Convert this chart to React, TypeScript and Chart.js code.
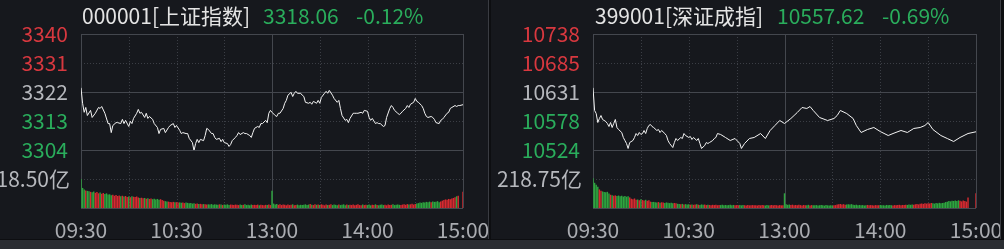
import React, { useEffect, useRef } from 'react';
import { Chart, registerables } from 'chart.js';

Chart.register(...registerables);

const FONT = '"Noto Sans CJK SC", "Noto Sans", sans-serif';
const FONT_SIZE = 21;
const BG = '#16181d';
const RED = '#d8383f';
const GREEN = '#2aad5c';
const GRAY_TEXT = '#b6b8bd';
const BAR_RED = '#d62a30';
const BAR_GREEN = '#2ea53f';

// ---- shared time axis (minutes from 09:30, lunch break removed) ----
const timeTicks = [0, 60, 120, 180, 240];
const timeTickLabels = ['09:30', '10:30', '13:00', '14:00', '15:00'];
const solidTimeLines = [0, 120, 240];
const dottedTimeLines = [30, 60, 90, 150, 180, 210];

// ---- 000001 上证指数 ----
const shTitle = '000001[上证指数]';
const shLast = '3318.06';
const shChange = '-0.12%';
const shPrevClose = 3322;
const shPriceTicks = [3304, 3313, 3322, 3331, 3340];
const shPriceTickLabels = ['3304', '3313', '3322', '3331', '3340'];
const shVolumeMax = 237;
const shVolumeTick = 118.5;
const shVolumeLabel = '118.50亿';
const shMinutes = [
  0, 1, 2, 3, 4, 6, 7, 9, 11, 12, 13, 15, 17, 18, 19, 20, 22, 23, 25, 26, 27, 28, 30, 31, 32, 33, 35, 36, 37, 38,
  40, 41, 42, 43, 45, 46, 48, 49, 50, 52, 53, 55, 56, 58, 59, 60, 62, 63, 64, 66, 67, 68, 70, 71, 72, 73, 74, 75, 77, 78,
  79, 80, 82, 83, 84, 85, 87, 88, 89, 90, 92, 93, 94, 95, 97, 98, 99, 100, 102, 103, 104, 106, 107, 108, 109, 111, 112, 113, 114, 116,
  117, 118, 119, 120, 122, 123, 124, 125, 127, 128, 129, 130, 132, 133, 134, 135, 136, 138, 139, 140, 141, 143, 144, 145, 146, 148, 149, 150, 151, 153,
  154, 155, 156, 158, 159, 161, 162, 163, 164, 166, 167, 168, 169, 171, 172, 173, 174, 176, 177, 178, 180, 181, 182, 183, 185, 186, 187, 188, 190, 191,
  192, 194, 195, 196, 197, 199, 200, 201, 202, 204, 205, 206, 207, 209, 210, 211, 212, 214, 215, 216, 217, 218, 220, 221, 222, 223, 225, 226, 227, 228,
  230, 231, 232, 233, 235, 236, 237, 238, 240,
];
const shPrices = [
  3323.3, 3318.5, 3315.7, 3317.2, 3314.7, 3316.3, 3314.1, 3315.4, 3317.2, 3316.9, 3317.5, 3315.4, 3312.2, 3312.2, 3309.4, 3311.6, 3312.5, 3312.5, 3312.2, 3313.5, 3312.2, 3313.2, 3311.3, 3312.9, 3312.2, 3313.8, 3315.4, 3316.6, 3315.4, 3315.7,
  3314.1, 3315.4, 3313.8, 3314.4, 3313.5, 3312.2, 3311.0, 3309.1, 3310.4, 3310.7, 3309.4, 3311.0, 3311.6, 3312.2, 3311.0, 3311.6, 3310.1, 3309.1, 3309.4, 3309.1, 3309.1, 3307.6, 3306.3, 3303.8, 3306.0, 3307.3, 3306.3, 3307.3, 3306.9, 3308.5,
  3310.7, 3310.4, 3309.1, 3309.1, 3307.9, 3307.3, 3307.6, 3306.6, 3307.3, 3306.3, 3306.0, 3305.1, 3305.7, 3306.9, 3307.9, 3308.5, 3309.4, 3308.8, 3309.4, 3309.1, 3309.1, 3308.5, 3307.9, 3309.4, 3310.7, 3311.3, 3311.0, 3312.2, 3312.2, 3313.2,
  3312.5, 3315.4, 3316.3, 3315.7, 3314.7, 3314.4, 3315.4, 3315.4, 3316.9, 3318.5, 3319.4, 3321.0, 3321.9, 3320.6, 3321.6, 3322.2, 3321.6, 3321.6, 3321.0, 3320.6, 3318.8, 3318.5, 3318.8, 3318.2, 3319.1, 3318.5, 3319.4, 3318.5, 3320.3, 3321.6,
  3322.2, 3321.6, 3322.5, 3321.0, 3320.0, 3318.8, 3319.4, 3316.9, 3314.7, 3313.2, 3313.5, 3312.5, 3313.8, 3315.4, 3315.4, 3315.4, 3315.4, 3315.7, 3315.4, 3316.3, 3316.0, 3314.1, 3313.2, 3313.8, 3312.2, 3312.5, 3312.2, 3312.2, 3311.3, 3311.6,
  3314.1, 3316.9, 3317.8, 3317.2, 3316.3, 3315.4, 3315.0, 3315.4, 3316.0, 3316.9, 3317.8, 3317.2, 3318.2, 3318.8, 3320.0, 3319.1, 3318.8, 3317.8, 3316.9, 3315.4, 3314.4, 3314.1, 3314.4, 3314.1, 3313.5, 3312.5, 3312.2, 3313.2, 3313.5, 3314.1,
  3315.4, 3315.7, 3316.9, 3317.2, 3317.8, 3317.5, 3317.8, 3317.8, 3318.06,
];
const shVolumes = [
  118, 82, 76, 72, 70, 68, 66, 64, 67, 62, 65, 60, 63, 58, 61, 57, 60, 55, 56, 52,
  54, 50, 53, 49, 51, 48, 50, 47, 49, 45, 47, 44, 48, 46, 45, 47, 43, 41, 42, 40,
  41, 38, 40, 37, 39, 36, 38, 35, 37, 34, 36, 33, 30, 28, 27, 26, 25, 24, 25, 23,
  24, 22, 23, 21, 22, 20, 22, 21, 19, 20, 18, 19, 17, 18, 16, 17, 15, 16, 15, 14,
  15, 14, 16, 13, 15, 14, 13, 15, 14, 12, 14, 13, 15, 12, 14, 13, 12, 14, 13, 12,
  14, 12, 13, 15, 12, 13, 11, 14, 12, 13, 12, 14, 11, 13, 12, 11, 13, 12, 14, 12,
  70, 18, 14, 16, 13, 15, 12, 14, 13, 11, 14, 12, 13, 15, 11, 12, 14, 11, 13, 12,
  13, 15, 12, 14, 16, 13, 12, 15, 13, 14, 12, 15, 13, 11, 14, 12, 13, 15, 12, 14,
  13, 11, 14, 12, 13, 15, 11, 14, 12, 13, 12, 14, 11, 13, 15, 12, 11, 14, 12, 13,
  12, 14, 11, 13, 12, 15, 12, 11, 13, 14, 12, 13, 11, 14, 12, 13, 15, 12, 13, 14,
  13, 12, 14, 15, 13, 16, 14, 15, 17, 14, 16, 18, 20, 22, 21, 24, 22, 25, 23, 26,
  24, 27, 25, 26, 28, 24, 27, 30, 33, 35, 34, 37, 36, 39, 41, 44, 48, 50, 0, 0,
  66,
];

// ---- 399001 深证成指 ----
const szTitle = '399001[深证成指]';
const szLast = '10557.62';
const szChange = '-0.69%';
const szPrevClose = 10631;
const szPriceTicks = [10524, 10578, 10631, 10685, 10738];
const szPriceTickLabels = ['10524', '10578', '10631', '10685', '10738'];
const szVolumeMax = 437.5;
const szVolumeTick = 218.75;
const szVolumeLabel = '218.75亿';
const szMinutes = [
  0, 1, 2, 3, 4, 5, 6, 8, 9, 10, 11, 12, 13, 14, 15, 16, 18, 19, 20, 21, 22, 23, 25, 26, 27, 28, 29, 30, 31, 32,
  33, 34, 35, 36, 37, 38, 40, 41, 42, 43, 45, 46, 47, 48, 50, 51, 52, 53, 55, 56, 57, 58, 60, 61, 62, 63, 65, 66, 67, 68,
  70, 71, 72, 73, 75, 76, 77, 78, 80, 83, 86, 89, 92, 93, 95, 98, 101, 105, 108, 111, 114, 117, 120, 124, 126, 128, 131, 134, 136, 138,
  142, 147, 151, 153, 155, 159, 163, 165, 168, 172, 176, 180, 185, 188, 193, 197, 201, 205, 208, 210, 213, 218, 222, 226, 230, 235, 240,
];
const szPrices = [
  10638.7, 10596.9, 10591.3, 10574.7, 10582.1, 10587.6, 10580.3, 10576.6, 10572.9, 10567.3, 10574.7, 10565.5, 10572.9, 10580.3, 10565.5, 10561.8, 10556.3, 10547.1, 10541.5, 10536.0, 10526.8, 10537.8, 10541.5, 10547.1, 10554.4, 10550.7, 10556.3, 10552.6, 10554.4, 10560.0,
  10554.4, 10563.7, 10569.2, 10571.0, 10567.3, 10565.5, 10560.0, 10561.8, 10556.3, 10560.0, 10554.4, 10550.7, 10541.5, 10536.0, 10528.6, 10537.8, 10545.2, 10541.5, 10547.1, 10545.2, 10554.4, 10550.7, 10547.1, 10548.9, 10543.4, 10547.1, 10541.5, 10545.2, 10536.0, 10526.8,
  10532.3, 10537.8, 10536.0, 10537.8, 10541.5, 10545.2, 10547.1, 10554.4, 10552.6, 10547.1, 10541.5, 10545.2, 10536.0, 10526.8, 10536.0, 10545.2, 10547.1, 10554.4, 10545.2, 10560.0, 10569.2, 10578.4, 10572.9, 10582.1, 10587.6, 10593.2, 10602.4, 10600.6, 10604.2, 10596.9,
  10583.9, 10578.4, 10582.1, 10587.6, 10596.9, 10591.3, 10582.1, 10569.2, 10556.3, 10561.8, 10565.5, 10558.1, 10550.7, 10554.4, 10560.0, 10556.3, 10563.7, 10565.5, 10569.2, 10574.7, 10561.8, 10550.7, 10545.2, 10539.7, 10547.1, 10554.4, 10557.62,
];
const szVolumes = [
  225, 190, 175, 160, 140, 130, 125, 120, 118, 122, 110, 100, 96, 92, 95, 90, 94, 88, 92, 86,
  90, 85, 88, 80, 70, 66, 72, 62, 64, 58, 66, 60, 56, 62, 55, 58, 48, 45, 46, 44,
  42, 45, 40, 43, 41, 38, 42, 39, 37, 40, 36, 38, 35, 32, 30, 28, 31, 27, 29, 26,
  28, 25, 27, 24, 26, 28, 25, 23, 27, 24, 26, 22, 25, 23, 21, 24, 22, 25, 21, 23,
  22, 24, 21, 23, 20, 22, 24, 21, 23, 20, 22, 21, 23, 20, 22, 21, 19, 22, 20, 21,
  22, 20, 21, 19, 23, 20, 22, 21, 19, 22, 20, 21, 23, 20, 22, 21, 19, 22, 20, 21,
  111, 28, 24, 26, 22, 25, 21, 23, 20, 24, 22, 19, 23, 21, 20, 24, 19, 22, 20, 21,
  22, 19, 21, 23, 20, 18, 22, 20, 19, 21, 18, 20, 22, 26, 28, 30, 27, 29, 25, 27,
  28, 26, 29, 24, 22, 25, 21, 23, 20, 22, 19, 21, 23, 20, 22, 21, 19, 22, 20, 21,
  22, 20, 21, 19, 23, 20, 22, 21, 19, 22, 20, 23, 24, 21, 23, 22, 25, 23, 26, 24,
  27, 25, 28, 30, 27, 32, 34, 31, 35, 33, 36, 34, 38, 35, 33, 37, 35, 39, 36, 38,
  40, 45, 48, 52, 50, 55, 53, 56, 52, 58, 54, 50, 57, 53, 48, 80, 0, 0, 0, 0,
  111,
];

type PanelProps = {
  left: number;
  width: number;
  canvasWidth: number;
  axisWidth: number;
  plotRight: number;
  titleX: number[];
  title: string;
  last: string;
  change: string;
  prevClose: number;
  priceTicks: number[];
  priceTickLabels: string[];
  volumeMax: number;
  volumeTick: number;
  volumeLabel: string;
  minutes: number[];
  prices: number[];
  volumes: number[];
};

function barColors(minutes: number[], prices: number[], count: number): string[] {
  const closes: number[] = [];
  let j = 0;
  let p = prices[0];
  for (let t = 0; t < count; t++) {
    while (j < minutes.length && minutes[j] <= t) {
      p = prices[j];
      j++;
    }
    closes.push(p);
  }
  const out: string[] = [];
  for (let t = 0; t < count; t++) {
    if (t === 0) {
      out.push(closes[1] < closes[0] ? BAR_GREEN : BAR_RED);
    } else if (closes[t] > closes[t - 1]) {
      out.push(BAR_RED);
    } else if (closes[t] < closes[t - 1]) {
      out.push(BAR_GREEN);
    } else {
      out.push(out[t - 1]);
    }
  }
  return out;
}

const gridPlugin = {
  id: 'quoteGrid',
  beforeDatasetsDraw(chart: any) {
    const { ctx, chartArea: a, scales } = chart;
    const x = scales.x;
    const y = scales.y;
    const v = scales.v;
    const opts = chart.options.plugins.quoteGrid;
    ctx.save();
    ctx.lineWidth = 1;
    const h = (py: number, dashed: boolean) => {
      const yy = Math.round(py) + 0.5;
      ctx.strokeStyle = dashed ? '#3b3e45' : '#44474e';
      ctx.setLineDash(dashed ? [1, 2] : []);
      ctx.beginPath();
      ctx.moveTo(a.left, yy);
      ctx.lineTo(a.right, yy);
      ctx.stroke();
    };
    const vl = (px: number, dashed: boolean) => {
      const xx = Math.round(px) + 0.5;
      ctx.strokeStyle = dashed ? '#3b3e45' : '#44474e';
      ctx.setLineDash(dashed ? [1, 2] : []);
      ctx.beginPath();
      ctx.moveTo(xx, a.top);
      ctx.lineTo(xx, a.bottom);
      ctx.stroke();
    };
    dottedTimeLines.forEach((t) => vl(x.getPixelForValue(t), true));
    opts.priceTicks.forEach((val: number, i: number) => {
      const solid = i === 0 || i === opts.priceTicks.length - 1 || val === opts.prevClose;
      h(y.getPixelForValue(val), !solid);
    });
    h(v.getPixelForValue(opts.volumeTick), true);
    h(v.getPixelForValue(0), false);
    solidTimeLines.forEach((t) => vl(x.getPixelForValue(t), false));
    ctx.restore();
  },
};

function Panel(props: PanelProps) {
  const ref = useRef<HTMLCanvasElement>(null);
  useEffect(() => {
    const canvas = ref.current;
    if (!canvas) return;
    const colors = barColors(props.minutes, props.prices, props.volumes.length);
    const tickColor = (val: number) =>
      val > props.prevClose + 0.5 ? RED : val < props.prevClose - 0.5 ? GREEN : GRAY_TEXT;
    const chart = new Chart(canvas, {
      data: {
        datasets: [
          {
            type: 'line',
            data: props.minutes.map((m, i) => ({ x: m, y: props.prices[i] })),
            xAxisID: 'x',
            yAxisID: 'y',
            borderColor: '#f4f4f4',
            borderWidth: 1,
            pointRadius: 0,
            tension: 0,
            order: 0,
          },
          {
            type: 'bar',
            data: props.volumes.map((vol, i) => ({ x: i, y: vol })),
            xAxisID: 'x',
            yAxisID: 'v',
            backgroundColor: colors,
            borderWidth: 0,
            barPercentage: 0.9,
            categoryPercentage: 1,
            order: 1,
          },
        ],
      } as any,
      options: {
        animation: false,
        responsive: false,
        maintainAspectRatio: false,
        events: [],
        layout: { padding: { top: 34, left: 0, bottom: 0, right: props.canvasWidth - props.plotRight } },
        plugins: {
          legend: { display: false },
          tooltip: { enabled: false },
          quoteGrid: {
            priceTicks: props.priceTicks,
            prevClose: props.prevClose,
            volumeTick: props.volumeTick,
          },
        } as any,
        scales: {
          x: {
            type: 'linear',
            min: 0,
            max: 240,
            offset: false,
            grid: { display: false },
            border: { display: false },
            afterBuildTicks: (s: any) => {
              s.ticks = timeTicks.map((t) => ({ value: t }));
            },
            afterFit: (s: any) => {
              s.height = 31;
            },
            ticks: {
              autoSkip: false,
              maxRotation: 0,
              padding: 1,
              color: '#aaacb1',
              font: { family: FONT, size: FONT_SIZE },
              callback: (val: any) => timeTickLabels[timeTicks.indexOf(Number(val))],
            },
          },
          v: {
            type: 'linear',
            position: 'left',
            stack: 'quote',
            stackWeight: 1,
            min: 0,
            max: props.volumeMax,
            grid: { display: false },
            border: { display: false },
            afterBuildTicks: (s: any) => {
              s.ticks = [{ value: props.volumeTick }];
            },
            afterFit: (s: any) => {
              s.width = props.axisWidth;
            },
            ticks: {
              autoSkip: false,
              padding: 3,
              color: GRAY_TEXT,
              font: { family: FONT, size: FONT_SIZE },
              callback: () => props.volumeLabel,
            },
          },
          y: {
            type: 'linear',
            position: 'left',
            stack: 'quote',
            stackWeight: 2,
            min: props.priceTicks[0],
            max: props.priceTicks[props.priceTicks.length - 1],
            grid: { display: false },
            border: { display: false },
            afterBuildTicks: (s: any) => {
              s.ticks = props.priceTicks.map((t) => ({ value: t }));
            },
            afterFit: (s: any) => {
              s.width = props.axisWidth;
            },
            ticks: {
              autoSkip: false,
              padding: 5,
              color: (ctx: any) => tickColor(ctx.tick.value),
              font: { family: FONT, size: FONT_SIZE },
              callback: (_val: any, i: number) => props.priceTickLabels[i],
            },
          },
        },
      } as any,
      plugins: [gridPlugin],
    });
    return () => chart.destroy();
  }, []);

  const textStyle = (x: number, color: string): React.CSSProperties => ({
    position: 'absolute',
    left: x - props.left,
    top: 5,
    lineHeight: '20px',
    fontSize: FONT_SIZE,
    fontFamily: FONT,
    color,
    whiteSpace: 'nowrap',
  });

  return (
    <div
      style={{
        position: 'absolute',
        left: props.left,
        top: 0,
        width: props.width,
        height: 239,
        overflow: 'hidden',
        background: BG,
      }}
    >
      <canvas
        ref={ref}
        width={props.canvasWidth}
        height={239}
        style={{ position: 'absolute', left: 0, top: 0, width: props.canvasWidth, height: 239 }}
      />
      <span style={textStyle(props.titleX[0], '#e4e4e4')}>{props.title}</span>
      <span style={textStyle(props.titleX[1], GREEN)}>{props.last}</span>
      <span style={textStyle(props.titleX[2], GREEN)}>{props.change}</span>
    </div>
  );
}

export default function App() {
  useEffect(() => {
    document.body.style.margin = '0';
    document.body.style.background = '#0d0e11';
  }, []);
  return (
    <div style={{ position: 'relative', width: 1004, height: 249, background: '#0d0e11', overflow: 'hidden' }}>
      <Panel
        left={0}
        width={488}
        canvasWidth={530}
        axisWidth={81}
        plotRight={463}
        titleX={[82, 263, 356]}
        title={shTitle}
        last={shLast}
        change={shChange}
        prevClose={shPrevClose}
        priceTicks={shPriceTicks}
        priceTickLabels={shPriceTickLabels}
        volumeMax={shVolumeMax}
        volumeTick={shVolumeTick}
        volumeLabel={shVolumeLabel}
        minutes={shMinutes}
        prices={shPrices}
        volumes={shVolumes}
      />
      <div style={{ position: 'absolute', left: 488, top: 0, width: 1, height: 239, background: '#3a3c42' }} />
      <Panel
        left={491}
        width={509}
        canvasWidth={545}
        axisWidth={102}
        plotRight={485}
        titleX={[595, 777, 882]}
        title={szTitle}
        last={szLast}
        change={szChange}
        prevClose={szPrevClose}
        priceTicks={szPriceTicks}
        priceTickLabels={szPriceTickLabels}
        volumeMax={szVolumeMax}
        volumeTick={szVolumeTick}
        volumeLabel={szVolumeLabel}
        minutes={szMinutes}
        prices={szPrices}
        volumes={szVolumes}
      />
      <div style={{ position: 'absolute', left: 1000, top: 0, width: 1, height: 239, background: '#3a3c42' }} />
      <div style={{ position: 'absolute', left: 0, top: 240, width: 1004, height: 9, background: '#2b2d32' }} />
    </div>
  );
}
